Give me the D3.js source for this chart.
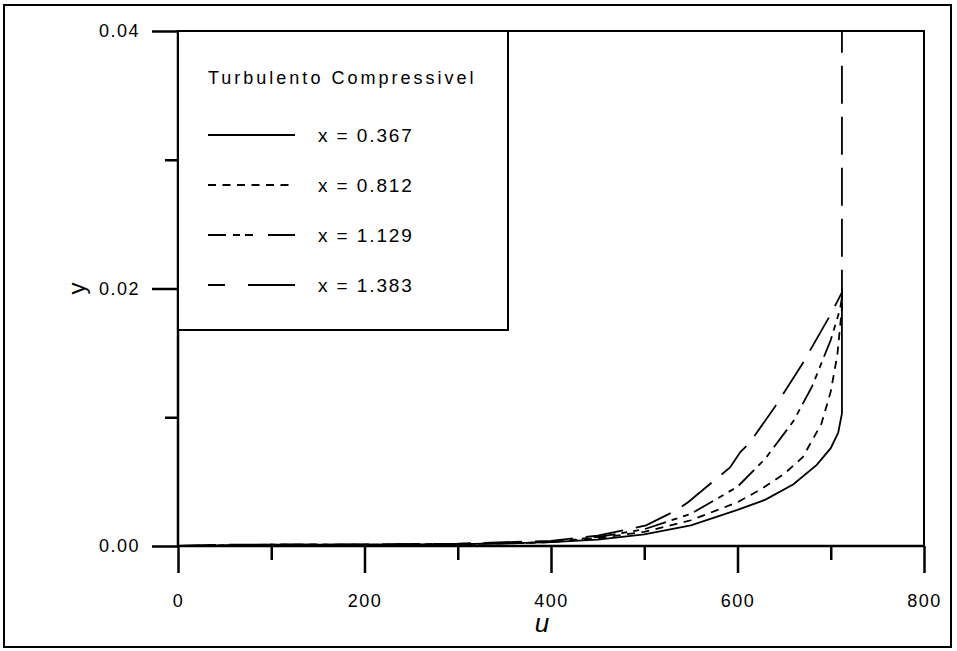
<!DOCTYPE html>
<html>
<head>
<meta charset="utf-8">
<script src="https://cdn.jsdelivr.net/npm/d3@7"></script>
<style>
  html, body { margin: 0; padding: 0; background: #fff; }
  svg { display: block; }
  text { font-family: "Liberation Sans", Arial, sans-serif; fill: #000; }
</style>
</head>
<body>
<svg id="chart" width="957" height="651"></svg>
<script>
// ---------- data ----------
const legendTitle = "Turbulento Compressivel";
const seriesNames = ["x = 0.367", "x = 0.812", "x = 1.129", "x = 1.383"];

const u_0367 = [0, 50, 100, 200, 300, 350, 400, 450, 500, 550, 600, 630, 660, 685, 700, 708, 712, 712];
const y_0367 = [0, 0.00005, 0.0001, 0.0001, 0.00015, 0.0002, 0.0003, 0.0005, 0.0009, 0.0016, 0.0028, 0.0036, 0.0048, 0.0063, 0.0076, 0.0088, 0.0103, 0.020];

const u_0812 = [0, 50, 100, 200, 300, 350, 400, 450, 500, 550, 600, 625, 650, 670, 690, 700, 707, 712, 712];
const y_0812 = [0, 0.00005, 0.0001, 0.0001, 0.00015, 0.0002, 0.0003, 0.0006, 0.0011, 0.0020, 0.0034, 0.0044, 0.0056, 0.0069, 0.0095, 0.0120, 0.0148, 0.0185, 0.0195];

const u_1129 = [0, 50, 100, 200, 300, 350, 400, 450, 500, 550, 600, 630, 660, 680, 700, 710, 712, 712];
const y_1129 = [0, 0.00005, 0.0001, 0.0001, 0.00015, 0.0002, 0.0003, 0.0007, 0.0013, 0.0025, 0.0046, 0.0068, 0.0097, 0.0124, 0.0160, 0.0184, 0.0193, 0.0200];

const u_1383 = [0, 50, 100, 200, 300, 350, 400, 450, 502, 535, 547, 592, 603, 613, 640, 670, 700, 712, 712];
const y_1383 = [0, 0.0001, 0.0001, 0.00012, 0.00018, 0.0003, 0.0004, 0.0008, 0.0016, 0.0028, 0.0034, 0.0061, 0.0073, 0.0080, 0.0108, 0.0142, 0.0180, 0.0197, 0.040];

const xMajorTicks = [0, 200, 400, 600, 800];
const xMinorTicks = [100, 300, 500, 700];
const yMajorTicks = [0, 0.02, 0.04];
const yMinorTicks = [0.01, 0.03];
const xLabel = "u";
const yLabel = "y";

// ---------- drawing ----------
const svg = d3.select("#chart");
const x = d3.scaleLinear().domain([0, 800]).range([178, 924]);
const y = d3.scaleLinear().domain([0, 0.04]).range([546, 31]);

// outer frame
svg.append("rect").attr("x", 4).attr("y", 5).attr("width", 947).attr("height", 642)
  .attr("fill", "none").attr("stroke", "#000").attr("stroke-width", 2);

// plot border (top/right)
svg.append("rect").attr("x", x(0)).attr("y", y(0.04)).attr("width", x(800) - x(0)).attr("height", y(0) - y(0.04))
  .attr("fill", "none").attr("stroke", "#000").attr("stroke-width", 2);

function styleAxis(g) {
  g.select(".domain").remove();
  g.selectAll(".tick line").attr("stroke", "#000").attr("stroke-width", 2.5);
}
const fmtX = d3.format("d");
const fmtY = d3.format(".2f");

const gxMaj = svg.append("g").attr("transform", `translate(0,${y(0)})`)
  .call(d3.axisBottom(x).tickValues(xMajorTicks).tickSize(27).tickPadding(14).tickFormat(fmtX));
styleAxis(gxMaj);
gxMaj.selectAll(".tick text").attr("font-size", 18).attr("font-family", "Liberation Sans, Arial, sans-serif")
  .style("letter-spacing", "1.5px").attr("dy", "1.1em");

const gxMin = svg.append("g").attr("transform", `translate(0,${y(0)})`)
  .call(d3.axisBottom(x).tickValues(xMinorTicks).tickSize(14).tickFormat(""));
styleAxis(gxMin);

const gyMaj = svg.append("g").attr("transform", `translate(${x(0)},0)`)
  .call(d3.axisLeft(y).tickValues(yMajorTicks).tickSize(26).tickPadding(12).tickFormat(fmtY));
styleAxis(gyMaj);
gyMaj.selectAll(".tick text").attr("font-size", 18).attr("font-family", "Liberation Sans, Arial, sans-serif")
  .style("letter-spacing", "1.5px");

const gyMin = svg.append("g").attr("transform", `translate(${x(0)},0)`)
  .call(d3.axisLeft(y).tickValues(yMinorTicks).tickSize(13).tickFormat(""));
styleAxis(gyMin);

// axis lines
svg.append("line").attr("x1", x(0)).attr("x2", x(800)).attr("y1", y(0)).attr("y2", y(0))
  .attr("stroke", "#000").attr("stroke-width", 2.5);
svg.append("line").attr("x1", x(0)).attr("x2", x(0)).attr("y1", y(0)).attr("y2", y(0.04))
  .attr("stroke", "#000").attr("stroke-width", 2.5);

// axis titles
svg.append("text").attr("x", (x(0) + x(800)) / 2 - 9).attr("y", 632)
  .attr("text-anchor", "middle").attr("font-family", "Liberation Serif, serif")
  .attr("font-style", "italic").attr("font-size", 26).text(xLabel);
svg.append("text").attr("transform", `translate(78,${y(0.02)}) rotate(-90)`)
  .attr("text-anchor", "middle").attr("dy", "0.3em").attr("font-size", 24).text(yLabel);

// curves
const dashes = [null, "8,6.5", "22,6,6,6,6,6", "38,13"];
const legendDashes = [null, "8,6.5", "18,7,7,5,8,15,40", "17,23,60"];
const series = [
  { u: u_0367, y: y_0367 },
  { u: u_0812, y: y_0812 },
  { u: u_1129, y: y_1129 },
  { u: u_1383, y: y_1383 },
];
const lineGen = d3.line().x(d => x(d[0])).y(d => y(d[1]));
series.forEach((s, i) => {
  const pts = s.u.map((v, k) => [v, s.y[k]]);
  svg.append("path").attr("d", lineGen(pts)).attr("fill", "none")
    .attr("stroke", "#000").attr("stroke-width", 1.8)
    .attr("stroke-dasharray", dashes[i]);
});

// legend
const lg = svg.append("g");
lg.append("rect").attr("x", x(0)).attr("y", y(0.04)).attr("width", 330).attr("height", 299)
  .attr("fill", "#fff").attr("stroke", "#000").attr("stroke-width", 2);
lg.append("text").attr("x", 208).attr("y", 84).attr("font-size", 18)
  .style("letter-spacing", "3px").text(legendTitle);
const legY = [135, 185, 235, 285];
seriesNames.forEach((name, i) => {
  lg.append("line").attr("x1", 208).attr("x2", 295).attr("y1", legY[i]).attr("y2", legY[i])
    .attr("stroke", "#000").attr("stroke-width", 1.8)
    .attr("stroke-dasharray", legendDashes[i]);
  lg.append("text").attr("x", 318).attr("y", legY[i]).attr("dy", "0.36em")
    .attr("font-size", 19).style("letter-spacing", "1.9px").text(name);
});
</script>
</body>
</html>
